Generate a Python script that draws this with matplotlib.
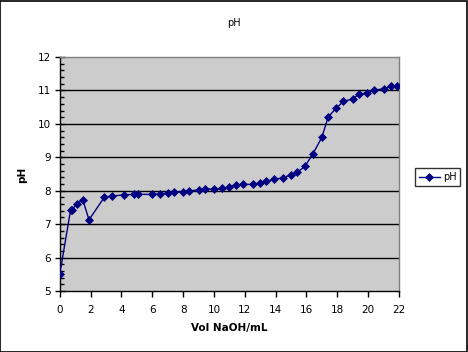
import matplotlib
matplotlib.use('Agg')
import matplotlib.pyplot as plt
from matplotlib.ticker import MultipleLocator
from matplotlib.patches import Rectangle

# titration data
vol_naoh = [0, 0.7, 0.8, 1.1, 1.5, 1.9, 2.9, 3.4, 4.2, 4.8, 5.1, 6.0, 6.5, 7.0, 7.4,
            8.0, 8.4, 9.0, 9.4, 10.0, 10.5, 11.0, 11.4, 11.9, 12.5, 13.0, 13.4,
            13.9, 14.5, 15.0, 15.4, 15.9, 16.4, 17.0, 17.4, 17.9, 18.4, 19.0,
            19.4, 19.9, 20.4, 21.0, 21.5, 21.9]
ph = [5.50, 7.41, 7.43, 7.61, 7.72, 7.13, 7.81, 7.84, 7.88, 7.89, 7.89, 7.89,
      7.91, 7.93, 7.96, 7.97, 7.99, 8.03, 8.05, 8.05, 8.07, 8.11, 8.17, 8.19,
      8.19, 8.22, 8.28, 8.34, 8.39, 8.48, 8.55, 8.73, 9.09, 9.60, 10.20, 10.46,
      10.67, 10.75, 10.89, 10.92, 11.01, 11.05, 11.12, 11.14]
x_ticks = list(range(0, 23, 2))
y_ticks = list(range(5, 13))

fig = plt.figure(figsize=(4.68, 3.52), dpi=100)
fig.patch.set_facecolor('white')
ax = fig.add_axes([0.1276, 0.1733, 0.7250, 0.6647])
ax.set_facecolor('#CCCCCC')

# black gridlines at every whole pH
for yv in y_ticks[1:-1]:
    ax.axhline(yv, color='black', lw=1, zorder=1)

ax.plot(vol_naoh, ph, color='#000080', lw=1, marker='D', markersize=3.6,
        markeredgewidth=0.5, label='pH', zorder=3)

ax.set_xlim(0, 22)
ax.set_ylim(5, 12)
ax.set_xticks(x_ticks)
ax.set_yticks(y_ticks)
ax.yaxis.set_minor_locator(MultipleLocator(0.2))

for s in ['top', 'right']:
    ax.spines[s].set_color('#808080')
for s in ['left', 'bottom']:
    ax.spines[s].set_color('black')
for s in ax.spines.values():
    s.set_linewidth(1)

ax.tick_params(axis='x', which='major', direction='out', length=4, width=1,
               labelsize=7.5, pad=6)
ax.tick_params(axis='y', which='major', direction='inout', length=7, width=1,
               labelsize=7.5, pad=3)
ax.tick_params(axis='y', which='minor', direction='in', length=3, width=1)

fig.text(0.5, 0.935, 'pH', ha='center', va='center', fontsize=7)
fig.text(0.49, 0.068, 'Vol NaOH/mL', ha='center', va='center', fontsize=7.5,
         fontweight='bold')
fig.text(0.047, 0.503, 'pH', ha='center', va='center', rotation=90,
         fontsize=7.5, fontweight='bold')

leg = fig.legend(loc='center', bbox_to_anchor=(0.935, 0.497), fontsize=7,
                 frameon=True, fancybox=False, edgecolor='black',
                 handlelength=2.2, handletextpad=0.3, borderpad=0.4,
                 borderaxespad=0)
leg.get_frame().set_linewidth(1)

# outer chart border
fig.patches.append(Rectangle((0.001, 0.001), 0.997, 0.996, transform=fig.transFigure,
                             fill=False, edgecolor='black', lw=1.2))

fig.savefig('out.png', dpi=100)
